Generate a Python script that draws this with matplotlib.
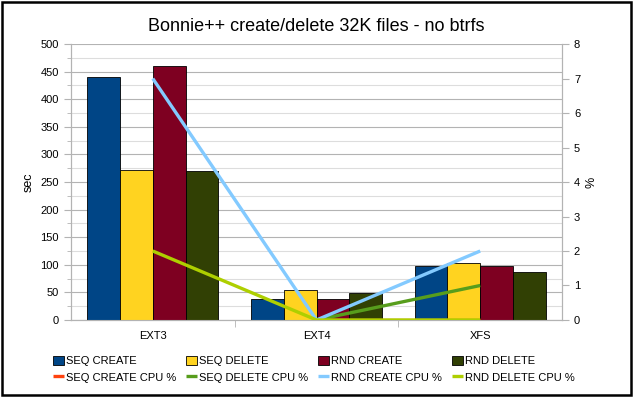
import numpy as np
import matplotlib
matplotlib.use("Agg")
from matplotlib import pyplot as plt
from matplotlib.patches import Rectangle

plt.rcParams['font.family'] = ['Liberation Sans', 'DejaVu Sans']

categories = ["EXT3", "EXT4", "XFS"]

# seconds (left axis)
seq_create = [440, 38, 98]
seq_delete = [272, 54, 103]
rnd_create = [460, 38, 98]
rnd_delete = [270, 49, 87]

# cpu % (right axis)
seq_create_cpu = [np.nan, 0, 0]
seq_delete_cpu = [np.nan, 0, 1]
rnd_create_cpu = [7, 0, 2]
rnd_delete_cpu = [2, 0, 0]

bar_series = [("SEQ CREATE", seq_create, "#004586"),
              ("SEQ DELETE", seq_delete, "#ffd320"),
              ("RND CREATE", rnd_create, "#7e0021"),
              ("RND DELETE", rnd_delete, "#314004")]
line_series = [("SEQ CREATE CPU %", seq_create_cpu, "#ff420e"),
               ("SEQ DELETE CPU %", seq_delete_cpu, "#579d1c"),
               ("RND CREATE CPU %", rnd_create_cpu, "#83caff"),
               ("RND DELETE CPU %", rnd_delete_cpu, "#aecf00")]

fig = plt.figure(figsize=(6.33, 3.97), dpi=100)
ax = fig.add_axes([0.112, 0.194, 0.776, 0.695])
ax2 = ax.twinx()

x = np.arange(len(categories))
w = 0.2
handles = []
for i, (name, vals, col) in enumerate(bar_series):
    b = ax.bar(x + (i - 1.5) * w, vals, w, color=col, edgecolor="black", linewidth=0.6,
               zorder=3, label=name)
    handles.append(b)

lhandles = []
for name, vals, col in line_series:
    l, = ax2.plot(x, vals, color=col, linewidth=2.4, solid_capstyle="butt", label=name, zorder=4)
    lhandles.append(l)

ax.set_xlim(-0.5, 2.5)
ax.set_ylim(0, 500)
ax.set_yticks(range(0, 501, 50))
ax.set_yticks(range(25, 500, 50), minor=True)
ax.grid(axis="y", which="major", color="#b3b3b3", linewidth=0.8, zorder=0)
ax.grid(axis="y", which="minor", color="#dddddd", linewidth=0.8, zorder=0)
ax.set_axisbelow(True)
ax.set_xticks(x)
ax.set_xticklabels(categories)
ax.set_xticks([0.5, 1.5], minor=True)
ax.tick_params(axis="x", which="major", length=0, labelsize=8, pad=8)
ax.tick_params(axis="x", which="minor", length=5, color="#b3b3b3")
ax.tick_params(axis="y", which="major", length=5, color="#b3b3b3", labelsize=8)
ax.tick_params(axis="y", which="minor", length=3, color="#b3b3b3")
ax.set_ylabel("sec", fontsize=9)

ax2.set_ylim(0, 8)
ax2.set_yticks(range(0, 9))
ax2.tick_params(axis="y", length=5, color="#b3b3b3", labelsize=8)
ax2.set_ylabel("%", fontsize=9)

for a in (ax, ax2):
    for s in a.spines.values():
        s.set_color("#b3b3b3")
    a.spines["top"].set_visible(False)

fig.suptitle("Bonnie++ create/delete 32K files - no btrfs", y=0.955, fontsize=13)

order = []
for i in range(4):
    order += [handles[i], lhandles[i]]
fig.legend(order, [h.get_label() for h in order], ncol=4, loc="upper left",
           bbox_to_anchor=(0.075, 0.118), frameon=False, fontsize=8,
           handlelength=1.0, handleheight=0.9, handletextpad=0.2,
           columnspacing=0.85, labelspacing=0.55, borderpad=0)

fig.patches.append(Rectangle((0.003, 0.004), 0.994, 0.992, transform=fig.transFigure,
                             fill=False, edgecolor="black", linewidth=1.8))

fig.savefig("out.png", dpi=100)
